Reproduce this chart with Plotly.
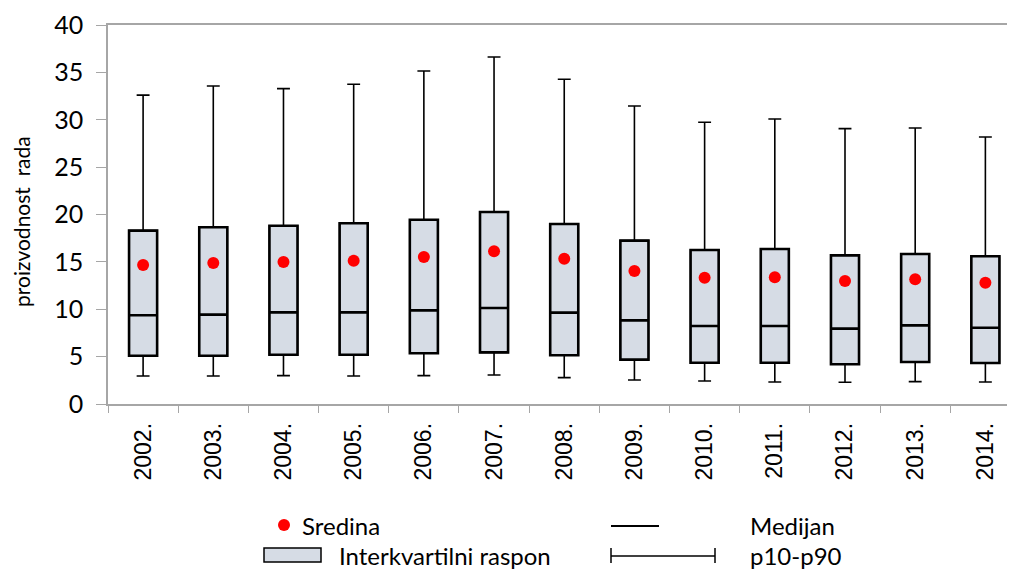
import plotly.graph_objects as go

years = ["2002.", "2003.", "2004.", "2005.", "2006.", "2007.", "2008.",
         "2009.", "2010.", "2011.", "2012.", "2013.", "2014."]
p10 = [2.95, 2.95, 2.99, 2.95, 2.99, 3.06, 2.78, 2.53, 2.43, 2.32, 2.29, 2.36, 2.32]
q1 = [5.10, 5.10, 5.20, 5.20, 5.35, 5.45, 5.14, 4.68, 4.36, 4.36, 4.19, 4.43, 4.33]
median = [9.36, 9.43, 9.67, 9.67, 9.88, 10.13, 9.64, 8.83, 8.23, 8.23, 7.95, 8.30, 8.05]
q3 = [18.30, 18.65, 18.82, 19.07, 19.45, 20.26, 19.00, 17.24, 16.25, 16.36, 15.69, 15.83, 15.59]
p90 = [32.60, 33.56, 33.28, 33.74, 35.14, 36.62, 34.27, 31.45, 29.73, 30.08, 29.06, 29.13, 28.18]
mean = [14.67, 14.88, 14.99, 15.13, 15.51, 16.11, 15.34, 14.04, 13.33, 13.37, 12.98, 13.16, 12.80]

W, H = 1015, 570
OFF = 8  # page body margin offset
L, T = 108 - OFF, 25 - OFF
PLOT_BOTTOM = 404 - OFF
R = 0
B = H - PLOT_BOTTOM
PW, PH = W - L - R, PLOT_BOTTOM - T

FILL = "#D6DCE5"
AXC = "#A6A6A6"
CAT_W = 70.19
x_max = PW / CAT_W - 0.5


def px(x):
    return (x - OFF - L) / PW


def py(y):
    return (PLOT_BOTTOM - (y - OFF)) / PH


fig = go.Figure()
# whiskers (thin) p10-p90
fig.add_trace(go.Box(
    x=years, q1=q1, median=median, q3=q3, lowerfence=p10, upperfence=p90,
    fillcolor=FILL, line=dict(color="black", width=1.6), width=0.4,
    whiskerwidth=0.46, boxpoints=False, showlegend=False, name="p10-p90"))
# box (thick) interquartile range + median
fig.add_trace(go.Box(
    x=years, q1=q1, median=median, q3=q3, lowerfence=q1, upperfence=q3,
    fillcolor=FILL, line=dict(color="black", width=2.6), width=0.4,
    whiskerwidth=0.0, boxpoints=False, showlegend=False, name="Interkvartilni raspon"))
fig.add_trace(go.Scatter(
    x=years, y=mean, mode="markers",
    marker=dict(color="#FF0000", size=12), showlegend=False, name="Sredina"))

fig.update_layout(
    width=W, height=H, margin=dict(l=L, r=R, t=T, b=B),
    paper_bgcolor="white", plot_bgcolor="white", boxmode="overlay",
    font=dict(family="Lato", color="black"),
    xaxis=dict(type="category", range=[-0.5, x_max], showgrid=False,
               showline=True, linecolor=AXC, linewidth=1.5, mirror=True,
               ticks="outside", tickson="boundaries", ticklen=7, tickcolor=AXC,
               tickangle=-90, ticklabelstandoff=8,
               tickfont=dict(family="Liberation Sans", size=23)),
    yaxis=dict(range=[0, 40], dtick=5, showgrid=False, zeroline=False,
               showline=True, linecolor=AXC, linewidth=1.5,
               ticks="outside", ticklen=10, tickcolor=AXC, ticklabelstandoff=8,
               tickfont=dict(family="Lato", size=25)),
)

fig.add_annotation(text="proizvodnost  rada", xref="paper", yref="paper",
                   x=px(21), y=py(222), textangle=-90, showarrow=False,
                   font=dict(family="Lato", size=21), xanchor="center", yanchor="middle")

# legend (drawn manually)
r1, r2 = 525, 555
LF = dict(family="Lato", size=24)
fig.add_shape(type="circle", xref="paper", yref="paper",
              x0=px(278), x1=px(290), y0=py(r1 + 6), y1=py(r1 - 6),
              fillcolor="#FF0000", line=dict(width=0))
fig.add_annotation(text="Sredina", xref="paper", yref="paper", x=px(300), y=py(r1),
                   showarrow=False, xanchor="left", yanchor="middle", font=LF)
fig.add_shape(type="line", xref="paper", yref="paper",
              x0=px(611), x1=px(659), y0=py(r1 + 1), y1=py(r1 + 1),
              line=dict(color="black", width=2))
fig.add_annotation(text="Medijan", xref="paper", yref="paper", x=px(748), y=py(r1),
                   showarrow=False, xanchor="left", yanchor="middle", font=LF)
fig.add_shape(type="rect", xref="paper", yref="paper",
              x0=px(264), x1=px(321), y0=py(562), y1=py(548),
              fillcolor=FILL, line=dict(color="black", width=1.5))
fig.add_annotation(text="Interkvartilni raspon", xref="paper", yref="paper", x=px(337), y=py(r2),
                   showarrow=False, xanchor="left", yanchor="middle", font=LF)
fig.add_shape(type="line", xref="paper", yref="paper",
              x0=px(611), x1=px(715), y0=py(r2 + 1), y1=py(r2 + 1),
              line=dict(color="black", width=1.5))
for xc in (611, 715):
    fig.add_shape(type="line", xref="paper", yref="paper",
                  x0=px(xc), x1=px(xc), y0=py(r2 - 7), y1=py(r2 + 8),
                  line=dict(color="black", width=1.5))
fig.add_annotation(text="p10-p90", xref="paper", yref="paper", x=px(748), y=py(r2),
                   showarrow=False, xanchor="left", yanchor="middle", font=LF)

fig.write_html("out.html")
